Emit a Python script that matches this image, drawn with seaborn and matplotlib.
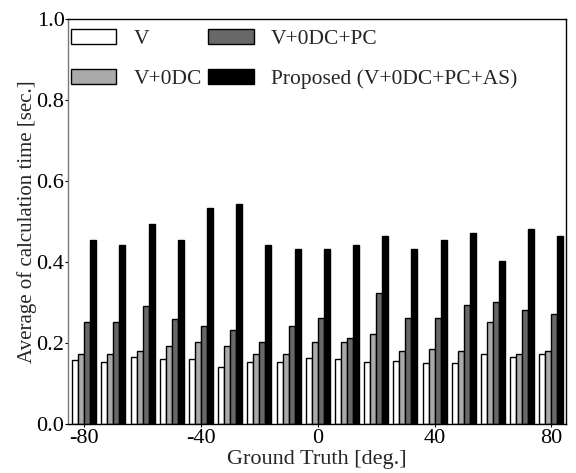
import numpy as np
import pandas as pd
import matplotlib
matplotlib.use("Agg")
import matplotlib.pyplot as plt
import seaborn as sns

angles = [-80, -70, -60, -50, -40, -30, -20, -10, 0, 10, 20, 30, 40, 50, 60, 70, 80]
v = [0.158, 0.152, 0.164, 0.160, 0.160, 0.141, 0.152, 0.152, 0.163, 0.161, 0.152, 0.155, 0.151, 0.151, 0.172, 0.166, 0.172]
v_0dc = [0.172, 0.172, 0.181, 0.192, 0.202, 0.192, 0.172, 0.172, 0.202, 0.202, 0.221, 0.181, 0.184, 0.181, 0.252, 0.172, 0.181]
v_0dc_pc = [0.251, 0.251, 0.291, 0.258, 0.241, 0.231, 0.202, 0.241, 0.262, 0.212, 0.322, 0.262, 0.262, 0.293, 0.301, 0.281, 0.272]
proposed = [0.453, 0.442, 0.493, 0.453, 0.533, 0.543, 0.442, 0.432, 0.432, 0.442, 0.463, 0.432, 0.453, 0.472, 0.402, 0.482, 0.463]
methods = ["V", "V+0DC", "V+0DC+PC", "Proposed (V+0DC+PC+AS)"]
colors = ["#ffffff", "#aaaaaa", "#686868", "#000000"]
xtick_labels = ["-80", "-40", "0", "40", "80"]

series = [v, v_0dc, v_0dc_pc, proposed]
rows = []
for m, vals in zip(methods, series):
    for a, val in zip(angles, vals):
        rows.append({"angle": a, "method": m, "time": val})
df = pd.DataFrame(rows)

sns.set_style("white")
plt.rcParams["font.family"] = ["Liberation Serif", "DejaVu Serif"]

fig = plt.figure(figsize=(5.76, 4.73), dpi=100)
ax = fig.add_axes([0.118, 0.104, 0.865, 0.856])

sns.barplot(data=df, x="angle", y="time", hue="method", hue_order=methods,
            order=angles, palette=colors, edgecolor="black", linewidth=1.0,
            width=0.82, saturation=1, errorbar=None, ax=ax)

ax.set_xlim(-0.557, 16.51)
ax.set_ylim(0, 1.0)
yt = np.arange(0, 1.01, 0.2)
ax.set_yticks(yt)
ax.set_yticklabels([f"{t:.1f}" for t in yt], fontsize=16)
tick_pos = [angles.index(int(t)) for t in xtick_labels]
ax.set_xticks(tick_pos)
ax.set_xticklabels(xtick_labels, fontsize=16)
ax.tick_params(axis="both", direction="out", length=2.5, width=0.8, colors="black")
ax.tick_params(axis="x", bottom=True, pad=1)
ax.tick_params(axis="y", left=True, pad=0)

ax.set_xlabel("Ground Truth [deg.]", fontsize=16, labelpad=2)
ax.set_ylabel("Average of calculation time [sec.]", fontsize=15, labelpad=0)

for s in ax.spines.values():
    s.set_color("black")
    s.set_linewidth(1.0)
ax.spines["left"].set_color("#777777")

leg = ax.legend(ncol=2, loc="upper left", frameon=False, fontsize=15.5,
                handlelength=2.1, handleheight=0.7, labelspacing=0.95,
                handletextpad=0.8, columnspacing=0.3,
                bbox_to_anchor=(-0.011, 0.997), borderaxespad=0.0)
for h in leg.legend_handles:
    h.set_edgecolor("black")

fig.savefig("out.png", dpi=100)
